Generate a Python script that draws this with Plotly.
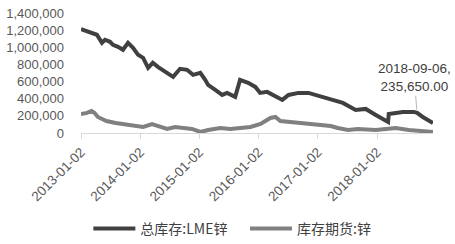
import plotly.graph_objects as go

lme_dates = ["2013-01-02","2013-02-14","2013-03-16","2013-04-10","2013-05-11","2013-05-30","2013-06-30",
             "2013-07-18","2013-08-18","2013-09-18","2013-10-19","2013-11-19","2013-12-20","2014-01-20",
             "2014-02-20","2014-03-21","2014-04-21","2014-06-04","2014-07-24","2014-09-05","2014-10-18",
             "2014-11-24","2015-01-08","2015-02-07","2015-02-25","2015-04-10","2015-05-23","2015-06-22",
             "2015-08-11","2015-09-10","2015-10-30","2015-12-13","2016-01-12","2016-02-24","2016-04-01",
             "2016-05-28","2016-07-05","2016-09-05","2016-11-05","2017-01-08","2017-02-21","2017-06-05",
             "2017-08-23","2017-10-24","2017-12-25","2018-03-11","2018-03-15","2018-06-10","2018-08-17",
             "2018-09-06","2018-10-11","2018-12-13"]
lme_values = [1213000,1185000,1170000,1146000,1053000,1088000,1064000,
              1029000,1006000,971000,1053000,994000,912000,877000,
              760000,819000,772000,713000,655000,749000,737000,
              678000,702000,620000,561000,503000,444000,468000,
              421000,620000,585000,538000,468000,480000,444000,
              386000,444000,468000,468000,433000,398000,351000,
              269000,281000,211000,129000,222000,246000,246000,
              235650,187000,117000]

shfe_dates = ["2013-01-02","2013-02-08","2013-03-08","2013-03-27","2013-04-16","2013-06-08","2013-08-04",
              "2013-09-30","2013-11-29","2014-01-20","2014-03-16","2014-05-04","2014-06-17","2014-08-05",
              "2014-09-24","2014-11-18","2015-01-08","2015-02-25","2015-05-11","2015-07-12","2015-09-12",
              "2015-11-13","2016-01-14","2016-03-15","2016-04-15","2016-05-16","2016-07-16","2016-09-17",
              "2016-11-17","2017-01-20","2017-03-22","2017-05-05","2017-07-06","2017-09-06","2017-12-25",
              "2018-02-25","2018-04-28","2018-07-17","2018-10-11","2018-12-13"]
shfe_values = [222000,234000,257000,234000,187000,140000,117000,
               105000,82000,70000,105000,70000,47000,70000,
               58000,47000,12000,35000,58000,47000,58000,
               70000,105000,175000,187000,140000,129000,117000,
               105000,94000,82000,58000,35000,47000,35000,
               47000,58000,35000,23000,12000]

tick_vals = ["2013-01-02","2014-01-02","2015-01-02","2016-01-02","2017-01-02","2018-01-02"]
y_ticks = [0,200000,400000,600000,800000,1000000,1200000,1400000]

ann_date = "2018-09-06"
ann_value = 235650

font_main = "Liberation Sans"
nb = "\u00a0"

fig = go.Figure()
fig.add_trace(go.Scatter(x=lme_dates, y=lme_values, mode="lines", name="总库存:LME锌" + nb * 4,
                         line=dict(color="#404040", width=4)))
fig.add_trace(go.Scatter(x=shfe_dates, y=shfe_values, mode="lines", name="库存期货:锌",
                         line=dict(color="#808080", width=4)))

fig.add_annotation(x=ann_date, y=ann_value, text="2018-09-06,<br>235,650.00",
                   showarrow=True, arrowhead=0, arrowwidth=0.8, arrowcolor="#a6a6a6",
                   ax=-3, ay=-35, standoff=3,
                   font=dict(family=font_main, size=13.5, color="#404040"))

fig.update_layout(
    width=455, height=244,
    margin=dict(l=81, r=22, t=13, b=111, autoexpand=False),
    paper_bgcolor="white", plot_bgcolor="white",
    showlegend=True,
    legend=dict(orientation="h", x=0.43, xanchor="center", xref="paper",
                y=-0.80, yanchor="middle",
                font=dict(family="Noto Sans CJK SC", size=14, color="#404040"),
                itemwidth=42, tracegroupgap=0),
)
fig.update_xaxes(type="date", range=["2013-01-02","2018-12-13"],
                 tickvals=tick_vals, ticktext=tick_vals, tickangle=-45,
                 showgrid=False, showline=True, linecolor="#d9d9d9", linewidth=1,
                 ticks="outside", ticklen=5, tickcolor="#d9d9d9",
                 tickfont=dict(family=font_main, size=13.5, color="#595959"),
                 zeroline=False, automargin=False)
fig.update_yaxes(range=[0,1400000], tickvals=y_ticks, tickformat=",",
                 showgrid=False, showline=False, zeroline=False,
                 ticks="", ticklabelstandoff=16, automargin=False,
                 tickfont=dict(family=font_main, size=13, color="#595959"))

fig.write_html("out.html")
